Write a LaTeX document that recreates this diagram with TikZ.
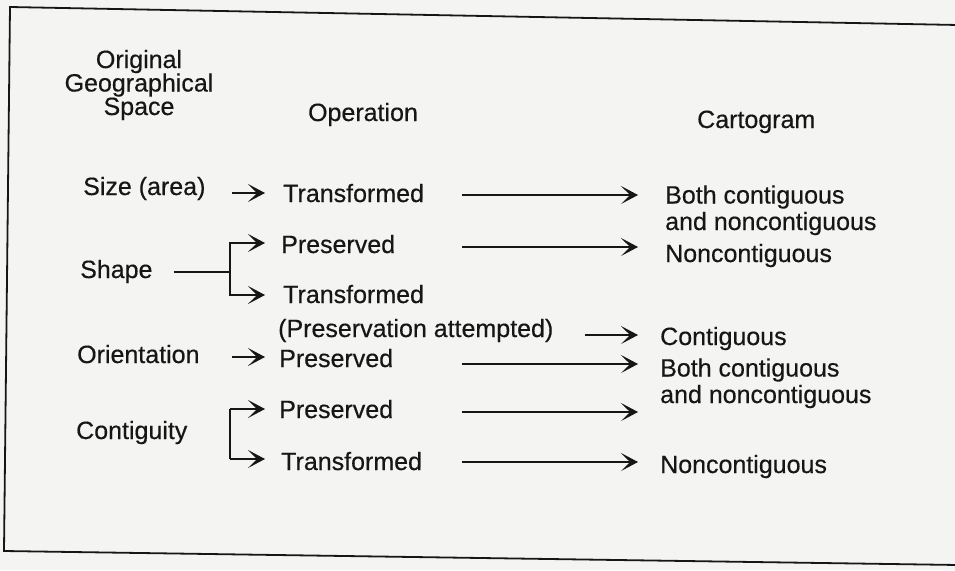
\documentclass[tikz,border=0pt]{standalone}
\usepackage{fontspec}
\setmainfont{Liberation Sans}
\newfontfamily\inkfont{Liberation Sans}[FakeBold=0.4]
\usetikzlibrary{arrows.meta,calc}
\definecolor{paper}{RGB}{244,244,242}
\definecolor{ink}{RGB}{22,22,22}
\tikzset{
  lbl/.style={inner sep=0pt, anchor=base west, text=ink, font=\inkfont\fontsize{25}{27}\selectfont},
  hdr/.style={inner sep=0pt, anchor=base, align=center, text=ink, font=\inkfont\fontsize{25}{23.5}\selectfont},
  two/.style={lbl, align=left, font=\inkfont\fontsize{25}{26.5}\selectfont},
  arr/.style={draw=ink, line width=1.1pt, -{Stealth[length=17pt,width=18pt,inset=9pt]}},
  ln/.style={draw=ink, line width=1.1pt},
  frame/.style={draw=ink, line width=1.8pt, line join=miter}
}
\begin{document}
\begin{tikzpicture}[x=1pt,y=-1pt]
\useasboundingbox (0,0) rectangle (955,570);
\fill[paper] (0,0) rectangle (955,570);
\draw[frame] (958,25) -- (10,7) -- (4,551) -- (958,565);

% headers (multi-line nodes: base = last line)
\node[hdr] (hgeo) at (139,115) {Original\\Geographical\\Space};
\node[hdr] (hop) at (363,121) {Operation};
\node[lbl] (hcar) at (697,128) {Cartogram};

% left column
\node[lbl] (size) at (83,195) {Size (area)};
\node[lbl] (shape) at (80,278) {Shape};
\node[lbl] (orient) at (77,363) {Orientation};
\node[lbl] (contig) at (76,439) {Contiguity};

% middle column
\node[lbl] (t1) at (283,202) {Transformed};
\node[lbl] (p1) at (281,253) {Preserved};
\node[lbl] (t2) at (283,303) {Transformed};
\node[lbl] (pa) at (278,337) {(Preservation attempted)};
\node[lbl] (p2) at (279,367) {Preserved};
\node[lbl] (p3) at (279,418) {Preserved};
\node[lbl] (t3) at (281,470) {Transformed};

% right column
\node[two] (c1) at (665,230) {Both contiguous\\and noncontiguous};
\node[lbl] (c2) at (665,262) {Noncontiguous};
\node[lbl] (c3) at (660,345) {Contiguous};
\node[two] (c4) at (660,403) {Both contiguous\\and noncontiguous};
\node[lbl] (c5) at (660,473) {Noncontiguous};

% column guides
\coordinate (xa) at (232,0);
\coordinate (xb) at (265,0);
\coordinate (xj) at (230,0);
\coordinate (xc) at (462,0);
\coordinate (xe) at (585,0);
\coordinate (xd) at (638,0);

% size -> transformed
\draw[arr] ($(t1.base west -| xa)+(0,-9)$) -- ($(t1.base west -| xb)+(0,-9)$);
% shape bracket
\coordinate (j1) at ($(shape.base east -| xj)+(0,-6)$);
\draw[ln] ($(shape.base east)+(21,-6)$) -- (j1);
\draw[arr] (j1) |- ($(p1.base west -| xb)+(0,-10)$);
\draw[arr] (j1) |- ($(t2.base west -| xb)+(0,-8)$);
% orientation -> preserved
\draw[arr] ($(p2.base west -| xa)+(0,-10)$) -- ($(p2.base west -| xb)+(0,-10)$);
% contiguity bracket
\draw[ln] ($(p3.base west -| xj)+(0,-9)$) -- ($(t3.base west -| xj)+(0,-11)$);
\draw[arr] ($(p3.base west -| xj)+(0,-9)$) -- ($(p3.base west -| xb)+(0,-9)$);
\draw[arr] ($(t3.base west -| xj)+(0,-11)$) -- ($(t3.base west -| xb)+(0,-11)$);

% long arrows to cartogram column
\draw[arr] ($(t1.base west -| xc)+(0,-7)$) -- ($(t1.base west -| xd)+(0,-7)$);
\draw[arr] ($(p1.base west -| xc)+(0,-6)$) -- ($(p1.base west -| xd)+(0,-6)$);
\draw[arr] ($(pa.base west -| xe)+(0,-2)$) -- ($(pa.base west -| xd)+(0,-2)$);
\draw[arr] ($(p2.base west -| xc)+(0,-3)$) -- ($(p2.base west -| xd)+(0,-3)$);
\draw[arr] ($(p3.base west -| xc)+(0,-6)$) -- ($(p3.base west -| xd)+(0,-6)$);
\draw[arr] ($(t3.base west -| xc)+(0,-8)$) -- ($(t3.base west -| xd)+(0,-8)$);
\end{tikzpicture}
\end{document}
